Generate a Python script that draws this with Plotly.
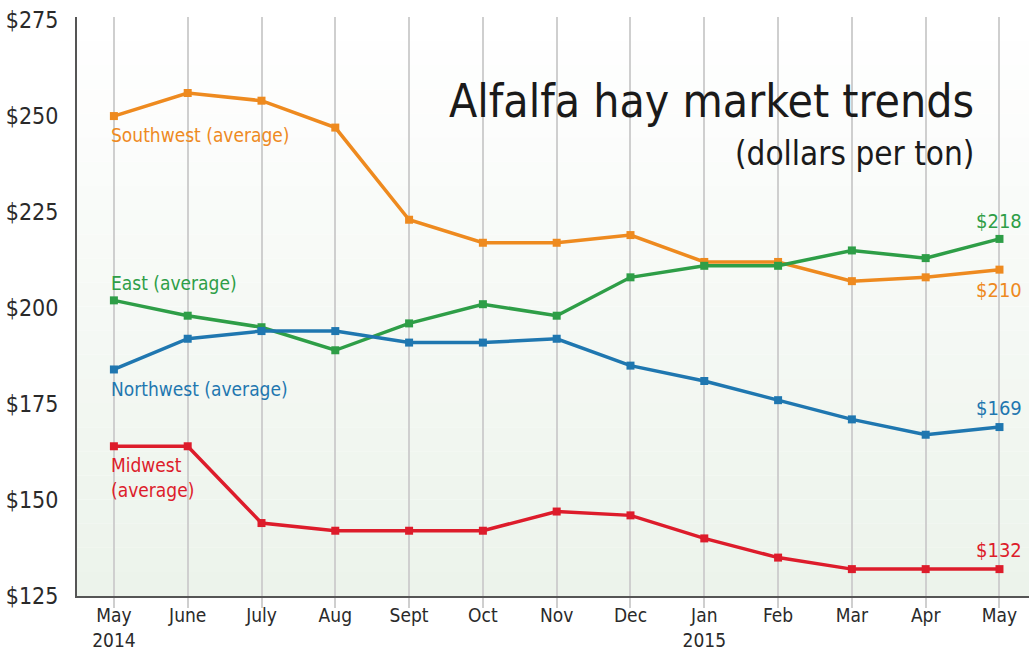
import plotly.graph_objects as go

# Monthly alfalfa hay prices, dollars per ton
months = ["May<br>2014", "June", "July", "Aug", "Sept", "Oct", "Nov", "Dec",
          "Jan<br>2015", "Feb", "Mar", "Apr", "May"]
southwest = [250, 256, 254, 247, 223, 217, 217, 219, 212, 212, 207, 208, 210]
east = [202, 198, 195, 189, 196, 201, 198, 208, 211, 211, 215, 213, 218]
northwest = [184, 192, 194, 194, 191, 191, 192, 185, 181, 176, 171, 167, 169]
midwest = [164, 164, 144, 142, 142, 142, 147, 146, 140, 135, 132, 132, 132]
y_ticks = [125, 150, 175, 200, 225, 250, 275]

FONT = "Liberation Sans Narrow, DejaVu Sans Condensed, Arial Narrow, sans-serif"
x_idx = list(range(len(months)))

series = [
    ("Southwest", southwest, "#EE8A1F"),
    ("East", east, "#2E9E47"),
    ("Northwest", northwest, "#1F77B0"),
    ("Midwest", midwest, "#DD1C2B"),
]

fig = go.Figure()
for name, vals, col in series:
    fig.add_trace(go.Scatter(
        x=x_idx, y=vals, mode="lines+markers", name=name,
        line=dict(color=col, width=3.5),
        marker=dict(symbol="square", size=8, color=col),
        showlegend=False,
    ))

# soft vertical gradient behind the plot
n_bands = 24
for i in range(n_bands):
    t = i / (n_bands - 1)
    r = round(255 - t * (255 - 236))
    g = round(255 - t * (255 - 243))
    b = round(255 - t * (255 - 235))
    fig.add_shape(type="rect", xref="paper", yref="paper",
                  x0=0, x1=1, y0=1 - (i + 1) / n_bands, y1=1 - i / n_bands,
                  fillcolor=f"rgb({r},{g},{b})", line_width=0, layer="below")

ann = []
# series names near their first points
ann.append(dict(x=0, y=southwest[0], text="Southwest (average)", color="#EE8A1F", dy=19))
ann.append(dict(x=0, y=east[0], text="East (average)", color="#2E9E47", dy=-17))
ann.append(dict(x=0, y=northwest[0], text="Northwest (average)", color="#1F77B0", dy=20))
ann.append(dict(x=0, y=midwest[0], text="Midwest<br>(average)", color="#DD1C2B", dy=31))
for a in ann:
    fig.add_annotation(x=a["x"], y=a["y"], text=a["text"], showarrow=False,
                       xanchor="left", yanchor="middle", xshift=-5, yshift=-a["dy"],
                       align="left",
                       font=dict(family=FONT, size=19, color=a["color"]))

# end-of-series values
end_labels = [
    (east[-1], "#2E9E47", 18),
    (southwest[-1], "#EE8A1F", -20),
    (northwest[-1], "#1F77B0", 19),
    (midwest[-1], "#DD1C2B", 19),
]
for v, col, dy in end_labels:
    fig.add_annotation(x=x_idx[-1], y=v, text=f"${v}", showarrow=False,
                       xanchor="center", yanchor="middle", yshift=dy,
                       font=dict(family=FONT, size=20, color=col))

fig.add_annotation(xref="paper", yref="paper", x=0.944, y=0.855,
                   text="Alfalfa hay market trends", showarrow=False,
                   xanchor="right", yanchor="middle",
                   font=dict(family=FONT, size=46, color="#1a1a1a"))
fig.add_annotation(xref="paper", yref="paper", x=0.944, y=0.765,
                   text="(dollars per ton)", showarrow=False,
                   xanchor="right", yanchor="middle",
                   font=dict(family=FONT, size=33, color="#1a1a1a"))

fig.update_layout(
    width=1029, height=653,
    margin=dict(l=77, r=0, t=17, b=57),
    paper_bgcolor="white", plot_bgcolor="rgba(0,0,0,0)",
    xaxis=dict(range=[-0.5, 12.4], tickvals=x_idx, ticktext=months,
               showgrid=True, gridcolor="#CFCFCF", gridwidth=1.5,
               ticks="outside", ticklen=10, tickcolor="#CFCFCF", tickwidth=1.5,
               ticklabelstandoff=-9,
               showline=True, linecolor="#555555", linewidth=2,
               tickfont=dict(family=FONT, size=19, color="#2a2a2a"),
               automargin=False, zeroline=False, fixedrange=True),
    yaxis=dict(range=[125, 275.8], tickvals=y_ticks,
               ticktext=[f"${v}" for v in y_ticks],
               showgrid=False, showline=True, linecolor="#555555", linewidth=2,
               ticks="", ticklabelstandoff=12,
               tickfont=dict(family=FONT, size=23, color="#2a2a2a"),
               automargin=False, zeroline=False, fixedrange=True),
)

fig.write_html("out.html")
